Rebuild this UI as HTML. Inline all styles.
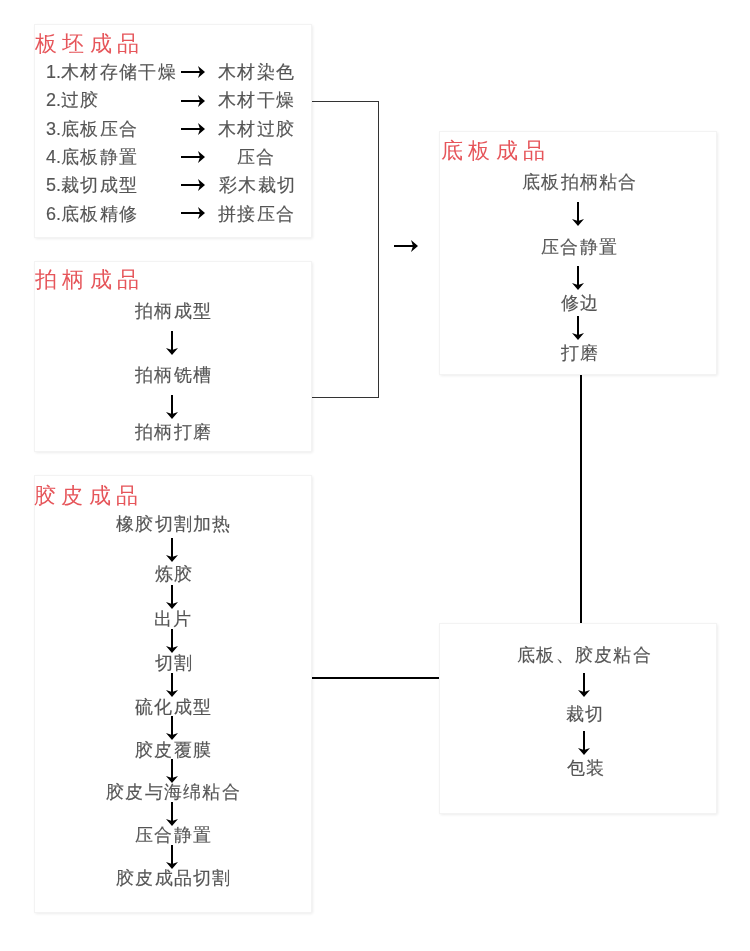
<!DOCTYPE html>
<html><head><meta charset="utf-8"><style>
html,body{margin:0;padding:0;background:#fff;width:750px;height:951px;overflow:hidden}
body{position:relative;font-family:'Liberation Sans', sans-serif}
.box{position:absolute;box-sizing:border-box;background:#fff;border:1px solid #f3f3f3;box-shadow:0.5px 0.5px 3px rgba(0,0,0,0.1)}
.ttl{position:absolute;will-change:transform;font-size:22px;line-height:22px;color:#e6555a;letter-spacing:5.4px;white-space:nowrap}
.tx{position:absolute;will-change:transform;font-size:18px;line-height:18px;letter-spacing:1.3px;color:#555;-webkit-text-stroke:0.15px #555;white-space:nowrap}
.ad{position:absolute;fill:#000}
.ln{position:absolute;background:#111}
</style></head><body>
<div class="ln" style="left:312px;top:101px;width:67px;height:1px;background:#333"></div>
<div class="ln" style="left:378px;top:101px;width:1px;height:297px;background:#333"></div>
<div class="ln" style="left:312px;top:397px;width:67px;height:1px;background:#333"></div>
<div class="ln" style="left:580px;top:375px;width:2px;height:249px;background:#000"></div>
<div class="ln" style="left:312px;top:677px;width:127px;height:2px;background:#000"></div>
<svg class="ad" style="left:394.3px;top:239.9px" width="24" height="12" viewBox="0 0 24 12"><rect x="0" y="5" width="20" height="2"/><path d="M17 0 L24 6 L17 12 L19 6Z"/></svg>
<div class="box" style="left:34px;top:24px;width:278px;height:214px"></div>
<div class="ttl" style="left:34.8px;top:32.8px">板坯成品</div>
<div class="tx" style="left:45.5px;top:63.1px"><span style="letter-spacing:0">1.</span>木材存储干燥</div>
<svg class="ad" style="left:181.0px;top:65.8px" width="24" height="12" viewBox="0 0 24 12"><rect x="0" y="5" width="20" height="2"/><path d="M17 0 L24 6 L17 12 L19 6Z"/></svg>
<div class="tx" style="left:217.5px;top:63.1px">木材染色</div>
<div class="tx" style="left:45.5px;top:91.4px"><span style="letter-spacing:0">2.</span>过胶</div>
<svg class="ad" style="left:181.0px;top:94.7px" width="24" height="12" viewBox="0 0 24 12"><rect x="0" y="5" width="20" height="2"/><path d="M17 0 L24 6 L17 12 L19 6Z"/></svg>
<div class="tx" style="left:218.0px;top:91.4px">木材干燥</div>
<div class="tx" style="left:45.5px;top:119.7px"><span style="letter-spacing:0">3.</span>底板压合</div>
<svg class="ad" style="left:181.0px;top:122.7px" width="24" height="12" viewBox="0 0 24 12"><rect x="0" y="5" width="20" height="2"/><path d="M17 0 L24 6 L17 12 L19 6Z"/></svg>
<div class="tx" style="left:218.0px;top:119.7px">木材过胶</div>
<div class="tx" style="left:45.5px;top:148.0px"><span style="letter-spacing:0">4.</span>底板静置</div>
<svg class="ad" style="left:181.0px;top:150.7px" width="24" height="12" viewBox="0 0 24 12"><rect x="0" y="5" width="20" height="2"/><path d="M17 0 L24 6 L17 12 L19 6Z"/></svg>
<div class="tx" style="left:237.0px;top:148.0px">压合</div>
<div class="tx" style="left:45.5px;top:176.3px"><span style="letter-spacing:0">5.</span>裁切成型</div>
<svg class="ad" style="left:181.0px;top:178.7px" width="24" height="12" viewBox="0 0 24 12"><rect x="0" y="5" width="20" height="2"/><path d="M17 0 L24 6 L17 12 L19 6Z"/></svg>
<div class="tx" style="left:218.5px;top:176.3px">彩木裁切</div>
<div class="tx" style="left:45.5px;top:204.6px"><span style="letter-spacing:0">6.</span>底板精修</div>
<svg class="ad" style="left:181.0px;top:206.7px" width="24" height="12" viewBox="0 0 24 12"><rect x="0" y="5" width="20" height="2"/><path d="M17 0 L24 6 L17 12 L19 6Z"/></svg>
<div class="tx" style="left:218.0px;top:204.6px">拼接压合</div>
<div class="box" style="left:34px;top:261px;width:278px;height:191px"></div>
<div class="ttl" style="left:35.2px;top:269.0px">拍柄成品</div>
<div class="tx" style="left:134.5px;top:302.4px">拍柄成型</div>
<svg class="ad" style="left:166.0px;top:331.0px" width="12" height="24" viewBox="0 0 12 24"><rect x="5" y="0" width="2" height="20"/><path d="M0 17 L6 24 L12 17 L6 19Z"/></svg>
<div class="tx" style="left:135.0px;top:366.3px">拍柄铣槽</div>
<svg class="ad" style="left:166.0px;top:395.0px" width="12" height="24" viewBox="0 0 12 24"><rect x="5" y="0" width="2" height="20"/><path d="M0 17 L6 24 L12 17 L6 19Z"/></svg>
<div class="tx" style="left:135.0px;top:423.1px">拍柄打磨</div>
<div class="box" style="left:34px;top:475px;width:278px;height:438px"></div>
<div class="ttl" style="left:34.2px;top:484.8px">胶皮成品</div>
<div class="tx" style="left:116.3px;top:515.3px">橡胶切割加热</div>
<svg class="ad" style="left:166.0px;top:537.5px" width="12" height="24" viewBox="0 0 12 24"><rect x="5" y="0" width="2" height="20"/><path d="M0 17 L6 24 L12 17 L6 19Z"/></svg>
<div class="tx" style="left:154.8px;top:565.2px">炼胶</div>
<svg class="ad" style="left:166.0px;top:584.8px" width="12" height="24" viewBox="0 0 12 24"><rect x="5" y="0" width="2" height="20"/><path d="M0 17 L6 24 L12 17 L6 19Z"/></svg>
<div class="tx" style="left:153.8px;top:610.1px">出片</div>
<svg class="ad" style="left:166.0px;top:629.4px" width="12" height="24" viewBox="0 0 12 24"><rect x="5" y="0" width="2" height="20"/><path d="M0 17 L6 24 L12 17 L6 19Z"/></svg>
<div class="tx" style="left:154.8px;top:653.9px">切割</div>
<svg class="ad" style="left:166.0px;top:672.7px" width="12" height="24" viewBox="0 0 12 24"><rect x="5" y="0" width="2" height="20"/><path d="M0 17 L6 24 L12 17 L6 19Z"/></svg>
<div class="tx" style="left:134.8px;top:697.5px">硫化成型</div>
<svg class="ad" style="left:166.0px;top:715.9px" width="12" height="24" viewBox="0 0 12 24"><rect x="5" y="0" width="2" height="20"/><path d="M0 17 L6 24 L12 17 L6 19Z"/></svg>
<div class="tx" style="left:134.8px;top:740.7px">胶皮覆膜</div>
<svg class="ad" style="left:166.0px;top:759.0px" width="12" height="24" viewBox="0 0 12 24"><rect x="5" y="0" width="2" height="20"/><path d="M0 17 L6 24 L12 17 L6 19Z"/></svg>
<div class="tx" style="left:105.8px;top:783.3px">胶皮与海绵粘合</div>
<svg class="ad" style="left:166.0px;top:802.1px" width="12" height="24" viewBox="0 0 12 24"><rect x="5" y="0" width="2" height="20"/><path d="M0 17 L6 24 L12 17 L6 19Z"/></svg>
<div class="tx" style="left:134.8px;top:826.2px">压合静置</div>
<svg class="ad" style="left:166.0px;top:844.8px" width="12" height="24" viewBox="0 0 12 24"><rect x="5" y="0" width="2" height="20"/><path d="M0 17 L6 24 L12 17 L6 19Z"/></svg>
<div class="tx" style="left:115.8px;top:869.0px">胶皮成品切割</div>
<div class="box" style="left:439px;top:131px;width:278px;height:244px"></div>
<div class="ttl" style="left:440.6px;top:139.6px">底板成品</div>
<div class="tx" style="left:521.5px;top:173.0px">底板拍柄粘合</div>
<svg class="ad" style="left:572.0px;top:201.7px" width="12" height="24" viewBox="0 0 12 24"><rect x="5" y="0" width="2" height="20"/><path d="M0 17 L6 24 L12 17 L6 19Z"/></svg>
<div class="tx" style="left:540.5px;top:237.7px">压合静置</div>
<svg class="ad" style="left:572.0px;top:266.1px" width="12" height="24" viewBox="0 0 12 24"><rect x="5" y="0" width="2" height="20"/><path d="M0 17 L6 24 L12 17 L6 19Z"/></svg>
<div class="tx" style="left:560.5px;top:293.7px">修边</div>
<svg class="ad" style="left:572.0px;top:316.0px" width="12" height="24" viewBox="0 0 12 24"><rect x="5" y="0" width="2" height="20"/><path d="M0 17 L6 24 L12 17 L6 19Z"/></svg>
<div class="tx" style="left:560.5px;top:344.2px">打磨</div>
<div class="box" style="left:439px;top:623px;width:278px;height:191px"></div>
<div class="tx" style="left:516.8px;top:646.2px">底板、胶皮粘合</div>
<svg class="ad" style="left:578.0px;top:673.0px" width="12" height="24" viewBox="0 0 12 24"><rect x="5" y="0" width="2" height="20"/><path d="M0 17 L6 24 L12 17 L6 19Z"/></svg>
<div class="tx" style="left:566.0px;top:705.0px">裁切</div>
<svg class="ad" style="left:578.0px;top:731.0px" width="12" height="24" viewBox="0 0 12 24"><rect x="5" y="0" width="2" height="20"/><path d="M0 17 L6 24 L12 17 L6 19Z"/></svg>
<div class="tx" style="left:566.5px;top:759.0px">包装</div>
</body></html>
